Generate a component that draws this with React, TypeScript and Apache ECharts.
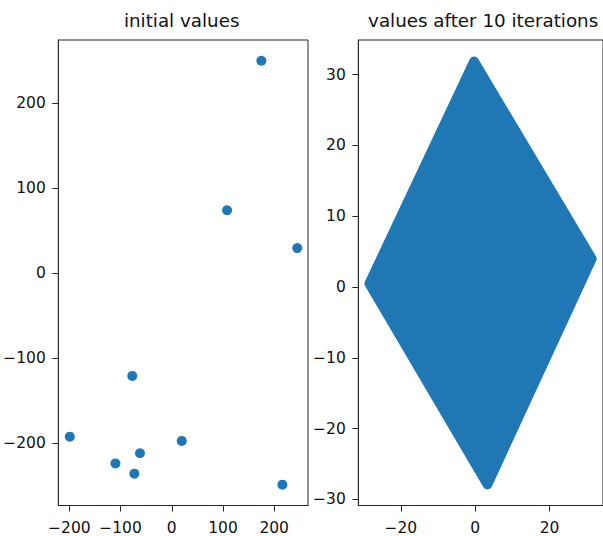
import React, { useEffect, useRef } from "react";
import * as echarts from "echarts";

// Left panel: initial values
const initialX = [175, 108, 245, -77, -199, -110, -73, -62, 19.5, 216];
const initialY = [250, 74, 29.5, -121, -192.5, -224, -236, -212, -197.5, -249];

// Right panel: outline (vertices) of the dense point cloud after 10 iterations
const diamondX = [-28.5, -0.3, 31.4, 3.3];
const diamondY = [0.5, 31.9, 4.0, -27.9];

// Tick labels
const leftXTicks = [-200, -100, 0, 100, 200];
const leftYTicks = [-200, -100, 0, 100, 200];
const rightXTicks = [-20, 0, 20];
const rightYTicks = [-30, -20, -10, 0, 10, 20, 30];

const titles = ["initial values", "values after 10 iterations"];

const BLUE = "#1f77b4";
const INK = "#262626";
const FONT = "DejaVu Sans";

function axis(gridIndex: number, min: number, max: number, ticks: number[], isX: boolean) {
  return {
    type: "value",
    gridIndex,
    min,
    max,
    axisLine: { show: true, onZero: false, lineStyle: { color: INK, width: 1 } },
    axisTick: {
      show: true,
      length: 6,
      inside: false,
      customValues: ticks,
      lineStyle: { color: INK, width: 1 },
    },
    axisLabel: {
      show: true,
      customValues: ticks,
      color: "#111",
      fontFamily: FONT,
      fontSize: 15.5,
      margin: isX ? 14.5 : 12.5,
      formatter: (v: number) => String(v).replace("-", "\u2212"),
    },
    splitLine: { show: false },
  };
}

export default function App() {
  const ref = useRef<HTMLDivElement>(null);
  useEffect(() => {
    if (!ref.current) return;
    const chart = echarts.init(ref.current, undefined, { renderer: "svg" });
    const gridW = 249.7;
    const gridH = 467;
    const titleStyle = { fontFamily: FONT, fontSize: 18.3, fontWeight: "normal", color: "#111" };
    chart.setOption({
      animation: false,
      backgroundColor: "#fff",
      title: [
        { text: titles[0], left: 58.3 + gridW / 2 - 1.5, top: 11, padding: 0, textAlign: "center", textStyle: titleStyle },
        { text: titles[1], left: 358.3 + gridW / 2, top: 11, padding: 0, textAlign: "center", textStyle: titleStyle },
      ],
      grid: [
        { left: 58.3, top: 40, width: gridW, height: gridH, show: true, borderColor: INK, borderWidth: 1, backgroundColor: "transparent" },
        { left: 358.3, top: 40, width: gridW, height: gridH, show: true, borderColor: INK, borderWidth: 1, backgroundColor: "transparent" },
      ],
      xAxis: [
        axis(0, -221.5, 266, leftXTicks, true),
        axis(1, -31.45, 34.4, rightXTicks, true),
      ],
      yAxis: [
        axis(0, -273.5, 274.4, leftYTicks, false),
        axis(1, -30.85, 34.9, rightYTicks, false),
      ],
      series: [
        {
          type: "scatter",
          xAxisIndex: 0,
          yAxisIndex: 0,
          symbol: "circle",
          symbolSize: 10,
          itemStyle: { color: BLUE, opacity: 1 },
          data: initialX.map((x, i) => [x, initialY[i]]),
        },
        {
          type: "custom",
          xAxisIndex: 1,
          yAxisIndex: 1,
          data: [[diamondX[0], diamondY[0]]],
          renderItem: (params: any, api: any) => {
            const pts = diamondX.map((x, i) => api.coord([x, diamondY[i]]));
            return {
              type: "polygon",
              shape: { points: pts },
              style: { fill: BLUE, stroke: BLUE, lineWidth: 9.6, lineJoin: "round" },
            };
          },
        },
      ],
    });
    return () => chart.dispose();
  }, []);
  return (
    <div
      ref={ref}
      style={{ position: "fixed", left: 0, top: 0, width: 603, height: 536, overflow: "hidden" }}
    />
  );
}
